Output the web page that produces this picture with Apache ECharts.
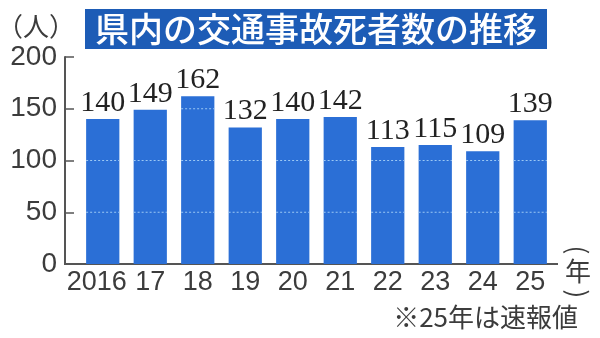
<!DOCTYPE html>
<html>
<head>
<meta charset="utf-8">
<script src="https://cdn.jsdelivr.net/npm/echarts@6/dist/echarts.min.js"></script>
<style>
  html, body { margin: 0; padding: 0; background: #fff; }
  #chart { width: 600px; height: 338px; }
</style>
</head>
<body>
<div id="chart"></div>
<script>
const years = ['2016', '17', '18', '19', '20', '21', '22', '23', '24', '25']
const deaths = [140, 149, 162, 132, 140, 142, 113, 115, 109, 139]
const gridValues = [50, 100, 150]

const chart = echarts.init(document.getElementById('chart'))

const textColor = '#3c3c3c'
const axisColor = '#555'

function cjkText(text, x, y, align, extra) {
  return Object.assign({
    type: 'text',
    x, y,
    style: {
      text, fontSize: 26, fill: textColor,
      fontFamily: 'Noto Sans CJK JP', align: align || 'center', verticalAlign: 'middle'
    }
  }, extra || {})
}

chart.setOption({
  animation: false,
  title: {
    text: '県内の交通事故死者数の推移',
    left: 85,
    top: 9,
    padding: [3, 10],
    backgroundColor: '#1d5cb6',
    textStyle: {
      color: '#fff',
      fontSize: 34,
      fontWeight: 500,
      fontFamily: 'Noto Sans CJK JP'
    }
  },
  grid: { left: 79, right: 46, top: 57, bottom: 74 },
  xAxis: {
    type: 'category',
    // the first label sits a little left of its bar
    data: years.map((y, i) => i === 0 ? { value: y, textStyle: { padding: [0, 12, 0, 0] } } : y),
    axisLine: { show: false },
    axisTick: { show: false },
    axisLabel: {
      interval: 0,
      margin: 5,
      fontSize: 27,
      color: textColor,
      fontFamily: 'Liberation Sans'
    }
  },
  yAxis: {
    type: 'value',
    min: 0,
    max: 200,
    interval: 50,
    offset: 14,
    axisLine: { show: true, lineStyle: { color: axisColor, width: 2 } },
    axisTick: { show: true, inside: true, length: 9, lineStyle: { color: axisColor, width: 1.5 } },
    splitLine: { show: false },
    axisLabel: {
      margin: 8,
      fontSize: 28,
      color: textColor,
      fontFamily: 'Liberation Sans'
    }
  },
  graphic: [
    {
      type: 'line',
      shape: { x1: 64, y1: 264, x2: 558, y2: 264 },
      style: { stroke: axisColor, lineWidth: 2 }
    },
    cjkText('（人）', 36, 26),
    cjkText('(', 578, 250, 'center', { rotation: -Math.PI / 2 }),
    cjkText('年', 578, 271),
    cjkText(')', 578, 294, 'center', { rotation: -Math.PI / 2 }),
    cjkText('※25年は速報値', 578, 317, 'right')
  ],
  series: [
    {
      type: 'bar',
      data: deaths,
      barWidth: '70%',
      itemStyle: { color: '#2b6fd6' },
      label: {
        show: true,
        position: 'top',
        distance: 1,
        fontSize: 30,
        color: '#222',
        fontFamily: 'Liberation Serif'
      }
    },
    {
      // dashed grid lines drawn only across the bars
      type: 'custom',
      z: 5,
      silent: true,
      data: deaths.map((v, i) => [i, v]),
      renderItem: (params, api) => {
        const i = api.value(0)
        const v = api.value(1)
        const w = api.size([1, 0])[0] * 0.7
        const children = gridValues.filter(g => g < v).map(g => {
          const p = api.coord([i, g])
          return {
            type: 'line',
            shape: { x1: p[0] - w / 2, y1: p[1], x2: p[0] + w / 2, y2: p[1] },
            style: { stroke: '#9cc8f4', lineWidth: 1, lineDash: [2, 2] }
          }
        })
        return { type: 'group', children }
      }
    }
  ]
})
</script>
</body>
</html>
